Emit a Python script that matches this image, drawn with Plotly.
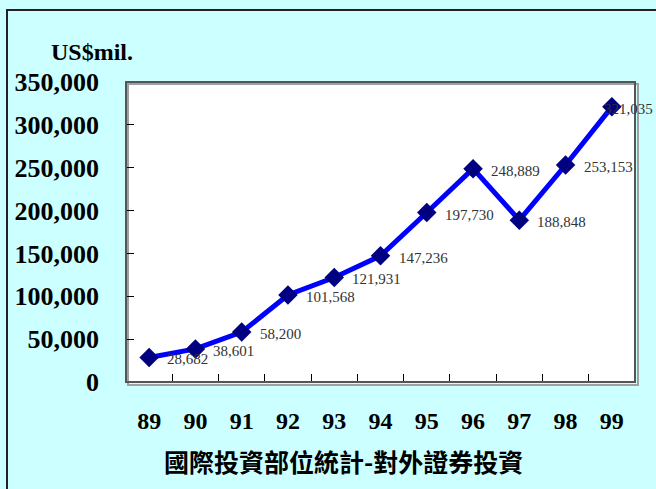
import plotly.graph_objects as go

years = ["89", "90", "91", "92", "93", "94", "95", "96", "97", "98", "99"]
values = [28682, 38601, 58200, 101568, 121931, 147236, 197730, 248889, 188848, 253153, 321035]
labels = [f"{v:,}" for v in values]
y_ticks = [0, 50000, 100000, 150000, 200000, 250000, 300000, 350000]
y_ticktext = [f"{v:,}" for v in y_ticks]

W, H = 656, 489
L, R, T, B = 126, 635, 82, 382

def px(x):
    return (x - L) / (R - L)

def py(y):
    return (B - y) / (B - T)

fig = go.Figure()
fig.add_trace(go.Scatter(
    x=years, y=values, mode="lines+markers",
    line=dict(color="#0000FF", width=5),
    marker=dict(symbol="diamond", size=15, color="#000080"),
    cliponaxis=False, showlegend=False,
))

annotations = []
for i, (v, lab) in enumerate(zip(values, labels)):
    last = i == len(values) - 1
    annotations.append(dict(
        x=i, y=v, xref="x", yref="y", text=lab, showarrow=False,
        xanchor="left", yanchor="middle",
        xshift=-10 if last else 16, yshift=-2,
        font=dict(family="Liberation Serif", size=15, color="#333333"),
    ))

annotations += [
    dict(text="<b>US$mil.</b>", xref="paper", yref="paper", x=px(92), y=py(52),
         xanchor="center", yanchor="middle",
         showarrow=False, font=dict(family="Liberation Serif", size=24, color="#000000")),
    dict(text="<b>國際投資部位統計-對外證券投資</b>", xref="paper", yref="paper",
         x=px(343), y=py(461), xanchor="center", yanchor="middle", showarrow=False,
         font=dict(family="Noto Sans CJK TC", size=25, color="#000000")),
]

fig.update_layout(
    width=W, height=H,
    margin=dict(l=L, r=W - R, t=T, b=H - B),
    paper_bgcolor="#CCFFFF", plot_bgcolor="#FFFFFF",
    xaxis=dict(type="category", range=[-0.5, 10.5], showgrid=False,
               ticks="inside", ticklen=8, tickcolor="#000000", tickson="boundaries",
               ticklabelstandoff=22,
               tickfont=dict(family="Liberation Serif", size=24, color="#000000", weight="bold"),
               showline=False, zeroline=False),
    yaxis=dict(range=[0, 350000], tickvals=y_ticks, ticktext=y_ticktext, showgrid=False,
               ticks="inside", ticklen=8, tickcolor="#000000",
               ticklabelstandoff=26,
               tickfont=dict(family="Liberation Serif", size=26, color="#000000", weight="bold"),
               showline=False, zeroline=False),
    shapes=[
        dict(type="rect", xref="paper", yref="paper",
             x0=px(7), y0=py(495), x1=px(700), y1=py(10),
             line=dict(color="#222222", width=2), layer="below"),
        dict(type="rect", xref="paper", yref="paper",
             x0=px(L + 2), y0=py(B + 3), x1=px(R + 3), y1=py(T + 2),
             line=dict(color="#A0A0A0", width=2), layer="below"),
        dict(type="rect", xref="paper", yref="paper",
             x0=0, y0=0, x1=1, y1=1,
             line=dict(color="#555555", width=2), layer="above"),
    ],
    annotations=annotations,
)

fig.write_html("out.html")
